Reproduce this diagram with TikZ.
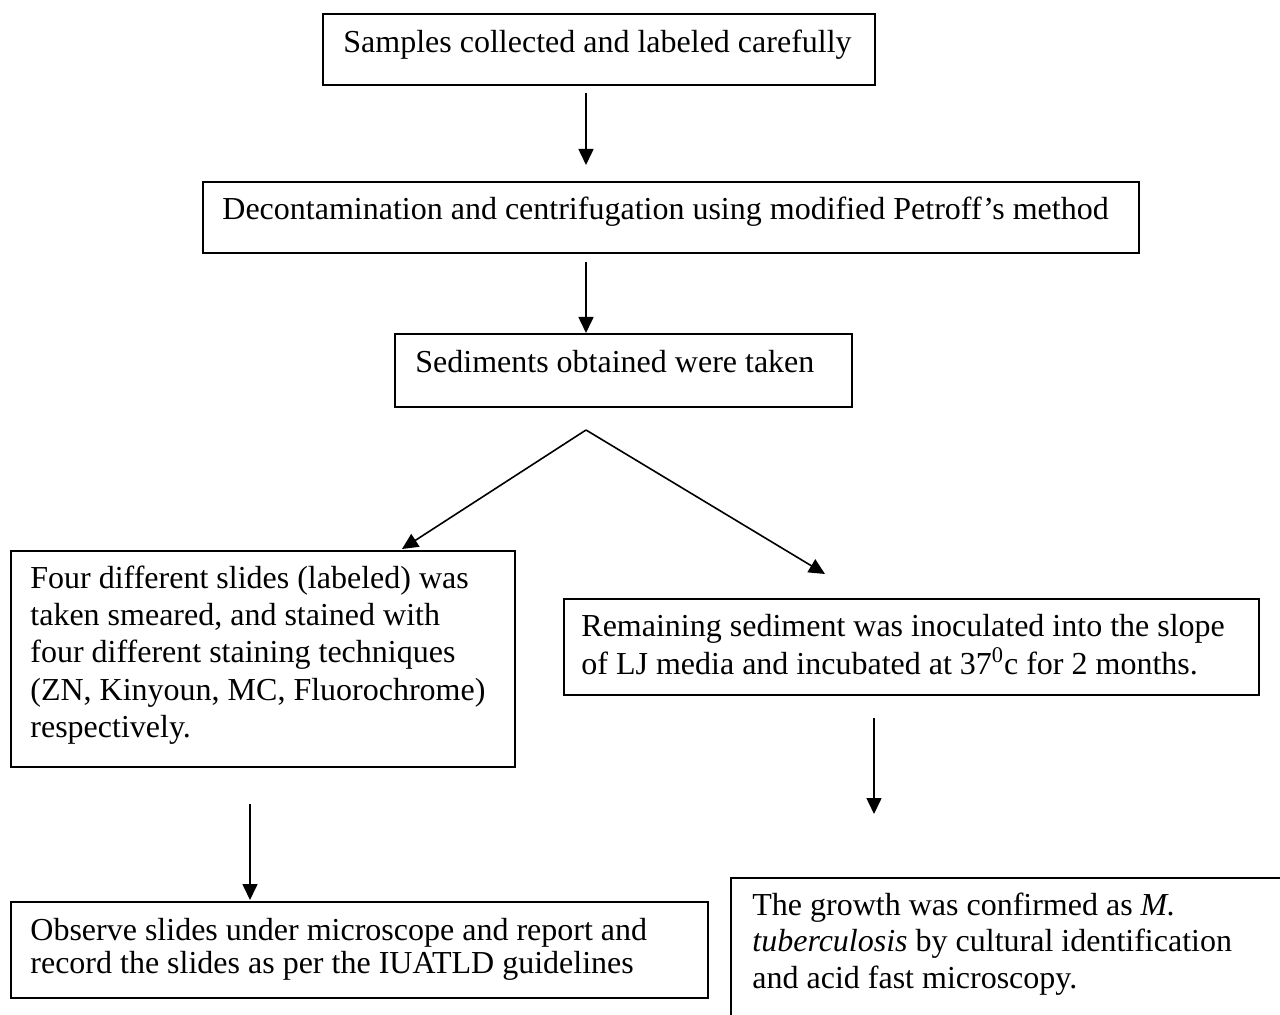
\documentclass[tikz,border=0pt]{standalone}
\usepackage{fontspec}
\setmainfont{Liberation Serif}
\usetikzlibrary{arrows.meta}
\newcommand\boxtext[2]{\parbox[t]{480pt}{\fontsize{16pt}{#1}\selectfont\raggedright #2}}
\begin{document}
\begin{tikzpicture}[x=0.5pt,y=-0.5pt,
  box/.style={draw, line width=1pt, inner sep=0pt, anchor=north west},
  txt/.style={anchor=base west, inner sep=0pt},
  arr/.style={line width=0.8pt, -{Triangle[length=8pt,width=7.5pt]}}]
\useasboundingbox (0,0) rectangle (1280,1015);
\clip (0,0) rectangle (1280,1015);

% boxes
\node[box, minimum width=276pt, minimum height=35.5pt] (b1) at (322,13) {};
\node[box, minimum width=468pt, minimum height=35.5pt] (b2) at (202,181) {};
\node[box, minimum width=228.5pt, minimum height=36.5pt] (b3) at (394,333) {};
\node[box, minimum width=252pt, minimum height=108pt] (b4) at (10,550) {};
\node[box, minimum width=347.5pt, minimum height=48pt] (b5) at (563,598) {};
\node[box, minimum width=348.5pt, minimum height=48pt] (b6) at (10,901) {};
\node[box, minimum width=290pt, minimum height=85pt] (b7) at (730,877) {};

% texts
\node[txt] (t1) at (343,53) {\boxtext{18.5pt}{Samples collected and labeled carefully}};
\node[txt] (t2) at (222,220) {\boxtext{18.5pt}{Decontamination and centrifugation using modified Petroff’s method}};
\node[txt] (t3) at (415,373) {\boxtext{18.5pt}{Sediments obtained were taken}};
\node[txt] (t4) at (30,589) {\boxtext{18.5pt}{Four different slides (labeled) was\\taken smeared, and stained with\\four different staining techniques\\(ZN, Kinyoun, MC, Fluorochrome)\\respectively.}};
\node[txt] (t5) at (581,637) {\boxtext{19pt}{Remaining sediment was inoculated into the slope\\of LJ media and incubated at 37\textsuperscript{0}c for 2 months.}};
\node[txt] (t6) at (30,940) {\boxtext{16.5pt}{Observe slides under microscope and report and\\record the slides as per the IUATLD guidelines}};
\node[txt] (t7) at (752,915) {\boxtext{18.25pt}{The growth was confirmed as \textit{M.}\\\textit{tuberculosis} by cultural identification\\and acid fast microscopy.}};

% connector end points
\coordinate (a1s) at (586,93);  \coordinate (a1e) at (586,165);
\coordinate (a2s) at (586,262); \coordinate (a2e) at (586,333);
\coordinate (apex) at (586,430);
\coordinate (lt) at (402,549);  \coordinate (rt) at (825,574);
\coordinate (a3s) at (250,804); \coordinate (a3e) at (250,900);
\coordinate (a4s) at (874,718); \coordinate (a4e) at (874,814);

% connectors
\draw[arr] (a1s) -- (a1e);
\draw[arr] (a2s) -- (a2e);
\draw[arr] (apex) -- (lt);
\draw[arr] (apex) -- (rt);
\draw[arr] (a3s) -- (a3e);
\draw[arr] (a4s) -- (a4e);
\end{tikzpicture}
\end{document}
